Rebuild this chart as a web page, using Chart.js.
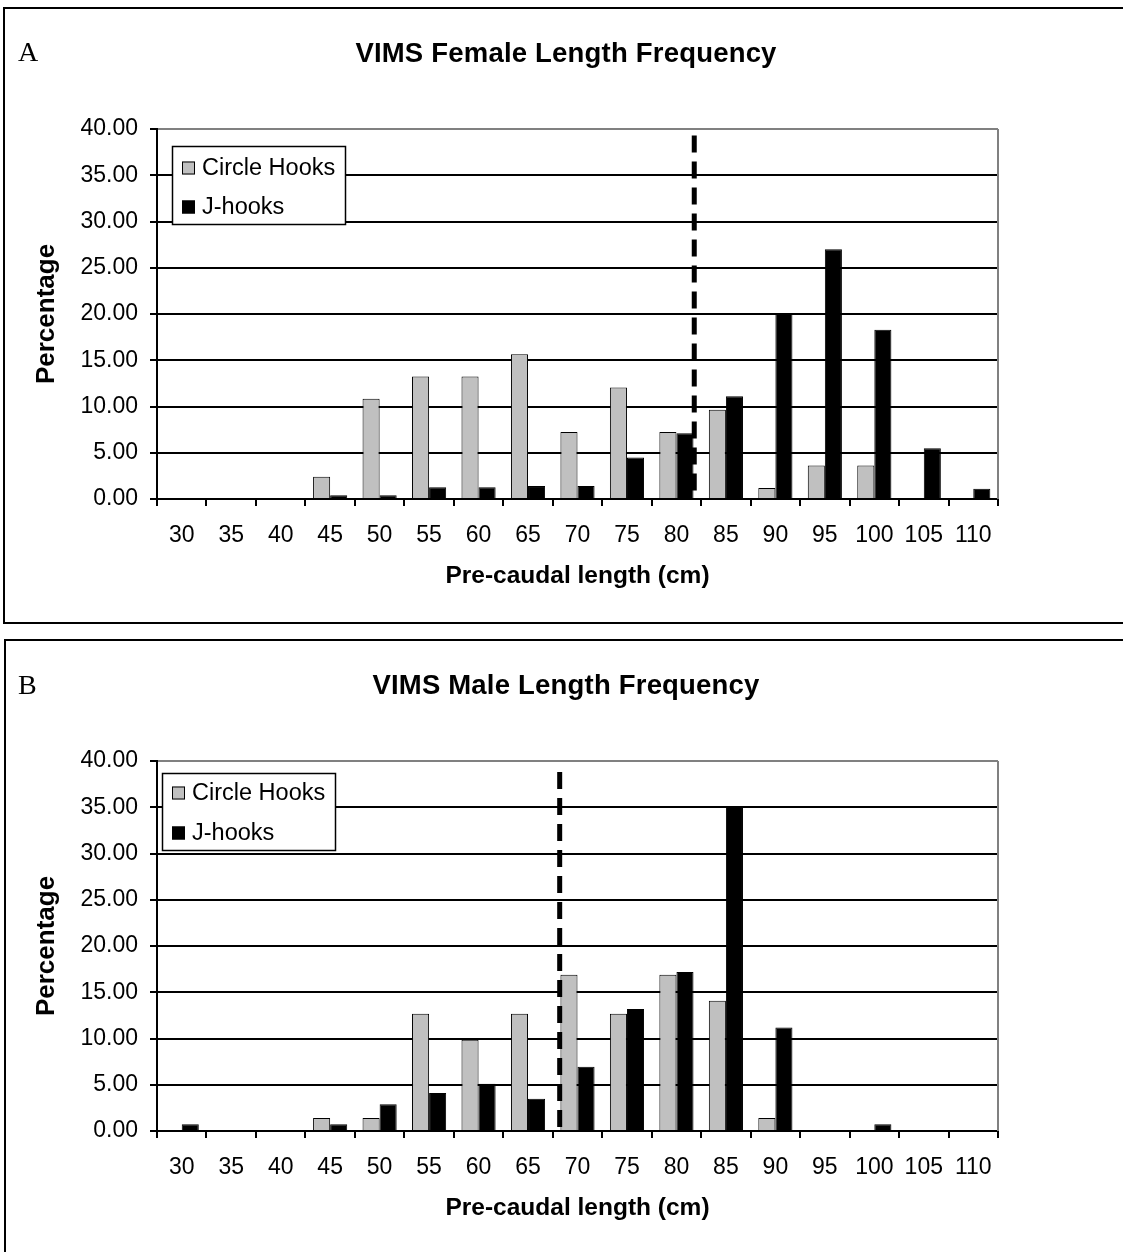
<!DOCTYPE html>
<html><head><meta charset="utf-8">
<script src="https://cdn.jsdelivr.net/npm/chart.js@4.4.1/dist/chart.umd.min.js"></script>
<style>
html,body{margin:0;padding:0;background:#fff;overflow:hidden;width:1123px;height:1252px;position:relative;}
.panel{position:absolute;border:2px solid #000;box-sizing:border-box;}
#pa{left:3px;top:7px;width:1200px;height:617px;}
#pb{left:4px;top:639px;width:1200px;height:700px;}
.letter{position:absolute;font-family:"Liberation Serif","Times New Roman",serif;font-size:28px;line-height:30px;color:#000;}
.title{position:absolute;left:266px;width:600px;text-align:center;font-family:"Liberation Sans",Arial,sans-serif;font-weight:bold;font-size:27.5px;letter-spacing:0.2px;line-height:34px;color:#000;}
.cw{position:absolute;left:0;width:1123px;height:632px;}
</style></head>
<body>
<div class="panel" id="pa"></div>
<div class="panel" id="pb"></div>
<div class="cw" style="top:0"><canvas id="ca" width="1123" height="632"></canvas></div>
<div class="cw" style="top:632px"><canvas id="cb" width="1123" height="632"></canvas></div>
<div class="letter" style="left:18px;top:37px">A</div>
<div class="title" style="top:36px">VIMS Female Length Frequency</div>
<div class="letter" style="left:18px;top:670px">B</div>
<div class="title" style="top:668px">VIMS Male Length Frequency</div>
<script>
const lengthClasses = [30,35,40,45,50,55,60,65,70,75,80,85,90,95,100,105,110];
const lengthLabels = lengthClasses.map(String);
const seriesNames = ['Circle Hooks','J-hooks'];
const femaleCircle = [0,0,0,2.41,10.84,13.25,13.25,15.66,7.23,12.05,7.23,9.64,1.20,3.61,3.61,0,0];
const femaleJ      = [0,0,0,0.4,0.4,1.26,1.26,1.4,1.4,4.5,7.1,11.1,20.0,27.0,18.3,5.5,1.1];
const maleCircle   = [0,0,0,1.41,1.41,12.68,9.86,12.68,16.90,12.68,16.90,14.08,1.41,0,0,0,0];
const maleJ        = [0.72,0,0,0.72,2.9,4.1,5.1,3.5,6.95,13.2,17.2,35.06,11.2,0,0.72,0,0];
const yTicks = [0,5,10,15,20,25,30,35,40];
const femaleCutoff = 81.8;   // cm, dashed reference line
const maleCutoff = 68.2;
const femaleCutoffTop = 39.3;
const maleCutoffTop = 38.8;

const FONT = '"Liberation Sans", Arial, sans-serif';

const frame = {
  id:'frame',
  beforeDatasetsDraw(chart){
    const {ctx, chartArea:a} = chart;
    ctx.save();
    ctx.strokeStyle = '#808080'; ctx.lineWidth = 2;
    ctx.beginPath(); ctx.moveTo(a.right, a.top); ctx.lineTo(a.right, a.bottom); ctx.stroke();
    ctx.restore();
  }
};
const cutoffLine = {
  id:'cutoffLine',
  afterDatasetsDraw(chart, args, o){
    const {ctx} = chart; const xs = chart.scales.x, ys = chart.scales.y;
    const step = lengthClasses[1]-lengthClasses[0];
    const x = xs.getPixelForValue((o.value - lengthClasses[0]) / step);
    ctx.save();
    ctx.strokeStyle = '#000'; ctx.lineWidth = 5; ctx.setLineDash([17,9]);
    ctx.beginPath(); ctx.moveTo(x, ys.getPixelForValue(o.top)); ctx.lineTo(x, ys.getPixelForValue(0)); ctx.stroke();
    ctx.restore();
  }
};
const boxLegend = {
  id:'boxLegend',
  afterDatasetsDraw(chart, args, o){
    const {ctx, chartArea:a} = chart;
    const x = a.left + o.dx, y = a.top + o.dy;
    ctx.save();
    ctx.fillStyle = '#fff'; ctx.fillRect(x, y, o.w, o.h);
    ctx.strokeStyle = '#000'; ctx.lineWidth = 1.5; ctx.strokeRect(x+0.5, y+0.5, o.w, o.h);
    chart.data.datasets.forEach((ds,i)=>{
      const cy = y + o.rows[i];
      ctx.fillStyle = ds.backgroundColor; ctx.fillRect(x+10, cy-6.5, 13, 13);
      ctx.strokeStyle = '#000'; ctx.lineWidth = 1; ctx.strokeRect(x+10.5, cy-6, 12, 12);
      ctx.fillStyle = '#000'; ctx.font = '23.5px ' + FONT; ctx.textBaseline = 'middle';
      ctx.fillText(ds.label, x+30, cy+1);
    });
    ctx.restore();
  }
};

function makeChart(id, circle, jh, cutoff, cutoffTop, leg){
  return new Chart(document.getElementById(id), {
    type:'bar',
    data:{ labels: lengthLabels, datasets:[
      {label: seriesNames[0], data: circle, backgroundColor:'#c0c0c0', borderColor:'#000', borderWidth:1},
      {label: seriesNames[1], data: jh, backgroundColor:'#000', borderColor:'#000', borderWidth:1}
    ]},
    plugins:[frame, cutoffLine, boxLegend],
    options:{
      responsive:false, animation:false, devicePixelRatio:1,
      layout:{padding:{left:0, top:129, right:125, bottom:0}},
      datasets:{bar:{categoryPercentage:0.69, barPercentage:1}},
      plugins:{
        legend:{display:false}, tooltip:{enabled:false},
        cutoffLine:{value:cutoff, top:cutoffTop},
        boxLegend: leg
      },
      scales:{
        x:{
          grid:{drawOnChartArea:false, drawTicks:true, tickLength:7, color:'#000', lineWidth:2, offset:true},
          border:{color:'#000', width:2},
          ticks:{font:{family:FONT, size:23}, color:'#000', padding:16, maxRotation:0, autoSkip:false},
          title:{display:true, text:'Pre-caudal length (cm)', color:'#000', font:{family:FONT, size:24.5, weight:'bold'}, padding:{top:0, bottom:40.6}},
          afterFit(s){ s.height = 133; }
        },
        y:{
          min:0, max:40,
          afterBuildTicks(s){ s.ticks = yTicks.map(v=>({value:v})); },
          ticks:{callback:v=>Number(v).toFixed(2), font:{family:FONT, size:23}, color:'#000', padding:12},
          grid:{color:c=>c.tick && c.tick.value===40 ? '#808080' : '#000', tickColor:'#000', lineWidth:2, tickLength:7, drawTicks:true},
          border:{color:'#000', width:2},
          title:{display:true, text:'Percentage', color:'#000', font:{family:FONT, size:26, weight:'bold'}, padding:{top:31, bottom:0}},
          afterFit(s){ s.width = 157; }
        }
      }
    }
  });
}
makeChart('ca', femaleCircle, femaleJ, femaleCutoff, femaleCutoffTop, {dx:15, dy:17, w:173, h:78, rows:[22,61]});
makeChart('cb', maleCircle, maleJ, maleCutoff, maleCutoffTop, {dx:5, dy:12, w:173, h:77, rows:[20,60]});
</script>
</body></html>
